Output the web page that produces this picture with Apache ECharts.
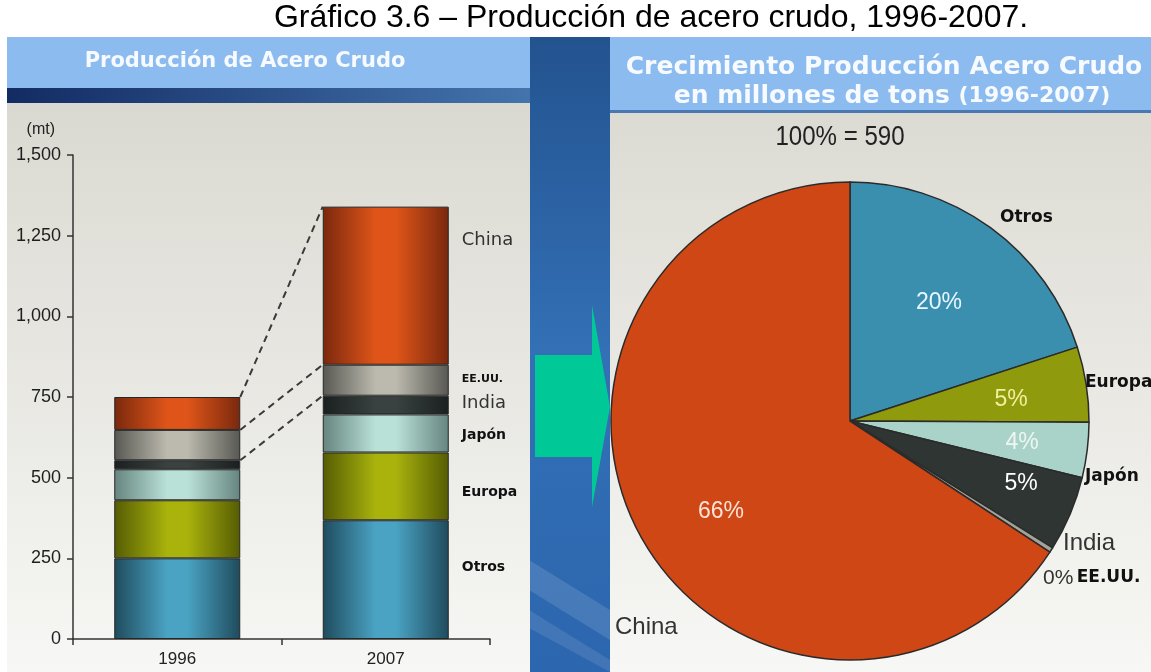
<!DOCTYPE html>
<html lang="es">
<head>
<meta charset="utf-8">
<title>Producción de acero crudo, 1996-2007</title>
<script src="https://cdn.jsdelivr.net/npm/echarts@6/dist/echarts.min.js"></script>
<style>
  html, body { margin: 0; padding: 0; background: #ffffff; overflow: hidden; }
  #main { width: 1151px; height: 672px; }
</style>
</head>
<body>
<div id="main"></div>
<script>
// Producción de acero crudo por región (millones de toneladas)
const regiones = ['Otros', 'Europa', 'Japón', 'India', 'EE.UU.', 'China'];
const anios = ['1996', '2007'];
const prod1996 = [250, 180, 96, 28, 94, 102];
const prod2007 = [368, 210, 118, 58, 96, 490];
// Crecimiento 1996-2007 por región (millones de toneladas)
const crecimiento = [118, 30, 22, 30, 2, 388];
// Eje de producción
const ejeMin = 0, ejeMax = 1500, ejePaso = 250;

// ---- estilos ----
const ARIAL = '"Liberation Sans", Arial, sans-serif';
const VERD = '"DejaVu Sans", Verdana, sans-serif';
const BAR_W = 126;

// [borde oscuro, centro claro] del cilindro de cada región
const barTones = [
  ['#1f4b5d', '#4aa3c3'],
  ['#555c03', '#a9b30c'],
  ['#65857f', '#bae1d8'],
  ['#1a201f', '#394240'],
  ['#585853', '#bcbaae'],
  ['#7a280d', '#df5519']
];
const pieColors = ['#3b8fae', '#8f9b0c', '#a9d2c9', '#2f3533', '#a3a39a', '#cf4715'];
const pctColors = ['#e6f7ff', '#f3ef9c', '#eef6f4', '#ffffff', '#ffffff', '#fbe3d6'];

// etiquetas a la derecha de la barra 2007
const barLabelStyle = [
  { fontFamily: VERD, fontWeight: 'bold', fontSize: 14, color: '#111', offset: [0, -12] },
  { fontFamily: VERD, fontWeight: 'bold', fontSize: 14, color: '#111', offset: [0, 6] },
  { fontFamily: VERD, fontWeight: 'bold', fontSize: 14, color: '#111', offset: [0, 2] },
  { fontFamily: VERD, fontWeight: 'normal', fontSize: 18, color: '#333', offset: [0, -2] },
  { fontFamily: VERD, fontWeight: 'bold', fontSize: 11, color: '#111', offset: [0, -1] },
  { fontFamily: VERD, fontWeight: 'normal', fontSize: 18, color: '#333', offset: [0, -45] }
];

// posiciones de las etiquetas del gráfico circular
const pieNamePos = {
  'Otros': [1000, 218], 'Europa': [1085, 383], 'Japón': [1085, 477],
  'India': [1063, 543], 'EE.UU.': [1043, 578], 'China': [615, 627]
};
const piePctPos = {
  'Otros': [939, 303], 'Europa': [1011, 400], 'Japón': [1022, 443],
  'India': [1021, 484], 'China': [721, 512]
};

function cylinder(t) {
  return new echarts.graphic.LinearGradient(0, 0, 1, 0, [
    { offset: 0, color: t[0] },
    { offset: 0.42, color: t[1] },
    { offset: 0.58, color: t[1] },
    { offset: 1, color: t[0] }
  ]);
}

function cumulative(arr) {
  let s = 0;
  return arr.map(v => (s += v));
}
const cum1996 = cumulative(prod1996);
const cum2007 = cumulative(prod2007);
// líneas punteadas entre los segmentos de China y EE.UU.
const conectores = [5, 4, 3].map(i => [0, cum1996[i], cum2007[i]]);
const totalCrec = crecimiento.reduce((a, b) => a + b, 0);

const barSeries = regiones.map((name, i) => ({
  type: 'bar',
  name: name,
  stack: 'total',
  barWidth: BAR_W,
  itemStyle: { color: cylinder(barTones[i]), borderColor: '#262626', borderWidth: 1 },
  label: { show: false },
  data: [
    prod1996[i],
    {
      value: prod2007[i],
      label: Object.assign({
        show: true, position: 'right', distance: 13, formatter: name
      }, barLabelStyle[i])
    }
  ]
}));

const pieData = regiones.map((name, i) => ({
  name: name,
  value: crecimiento[i],
  itemStyle: { color: pieColors[i] },
  label: { color: pctColors[i], show: name !== 'EE.UU.' }
}));

const chart = echarts.init(document.getElementById('main'), null, { renderer: 'canvas' });

const option = {
  animation: false,
  backgroundColor: '#ffffff',
  grid: { left: 73, right: 661, top: 155, bottom: 33, containLabel: false },
  xAxis: {
    type: 'category',
    data: anios,
    axisLine: { lineStyle: { color: '#333', width: 1.5 } },
    axisTick: { show: true, length: 6, lineStyle: { color: '#333', width: 1.5 } },
    axisLabel: { color: '#222', fontSize: 17, fontFamily: ARIAL, margin: 12 }
  },
  yAxis: {
    type: 'value',
    min: ejeMin, max: ejeMax, interval: ejePaso,
    name: '(mt)',
    nameLocation: 'end',
    nameGap: 17,
    nameTextStyle: { color: '#222', fontSize: 16, fontFamily: ARIAL, align: 'right', padding: [0, 18, 0, 0] },
    splitLine: { show: false },
    axisLine: { show: true, lineStyle: { color: '#333', width: 1.5 } },
    axisTick: { show: true, length: 6, lineStyle: { color: '#333', width: 1.5 } },
    axisLabel: {
      color: '#1e1e1e', fontSize: 18, fontFamily: ARIAL, margin: 12,
      formatter: v => v.toLocaleString('en-US')
    }
  },
  graphic: [
    // fondo azul de la presentación
    { type: 'rect', z: -10, shape: { x: 7, y: 37, width: 1144, height: 635 },
      style: { fill: new echarts.graphic.LinearGradient(0, 0, 0, 1, [
        { offset: 0, color: '#23538f' }, { offset: 0.5, color: '#3370b6' }, { offset: 1, color: '#2c66ae' }]) } },
    { type: 'polygon', z: -9, shape: { points: [[529, 560], [610, 610], [610, 640], [529, 590]] },
      style: { fill: 'rgba(255,255,255,0.12)' } },
    { type: 'polygon', z: -9, shape: { points: [[529, 610], [610, 660], [610, 672], [529, 628]] },
      style: { fill: 'rgba(255,255,255,0.10)' } },
    // panel izquierdo
    { type: 'rect', z: -8, shape: { x: 7, y: 37, width: 523, height: 51 }, style: { fill: '#8cbbf0' } },
    { type: 'rect', z: -8, shape: { x: 7, y: 88, width: 523, height: 15 },
      style: { fill: new echarts.graphic.LinearGradient(0, 0, 1, 0, [
        { offset: 0, color: '#132b63' }, { offset: 1, color: '#4474ad' }]) } },
    { type: 'rect', z: -8, shape: { x: 7, y: 103, width: 523, height: 569 },
      style: { fill: new echarts.graphic.LinearGradient(0, 0, 0, 1, [
        { offset: 0, color: '#dad9d1' }, { offset: 1, color: '#f7f7f5' }]) } },
    { type: 'text', z: 10, x: 245, y: 62,
      style: { text: 'Producción de Acero Crudo', fill: '#f7faff', font: 'bold 21px ' + VERD,
        align: 'center', verticalAlign: 'middle' } },
    // panel derecho
    { type: 'rect', z: -8, shape: { x: 610, y: 37, width: 541, height: 73 }, style: { fill: '#8cbbf0' } },
    { type: 'rect', z: -8, shape: { x: 610, y: 110, width: 541, height: 3 }, style: { fill: '#4a78b2' } },
    { type: 'rect', z: -8, shape: { x: 610, y: 113, width: 541, height: 559 },
      style: { fill: new echarts.graphic.LinearGradient(0, 0, 0, 1, [
        { offset: 0, color: '#dcdbd3' }, { offset: 1, color: '#f7f7f5' }]) } },
    { type: 'text', z: 10, x: 884, y: 67,
      style: { text: 'Crecimiento Producción Acero Crudo', fill: '#f7faff', font: 'bold 25px ' + VERD,
        align: 'center', verticalAlign: 'middle' } },
    { type: 'text', z: 10, x: 892, y: 96,
      style: { text: '{a|en millones de tons }{b|(1996-2007)}', align: 'center', verticalAlign: 'middle',
        rich: {
          a: { fill: '#f7faff', font: 'bold 25px ' + VERD },
          b: { fill: '#f7faff', font: 'bold 22px ' + VERD }
        } } },
    { type: 'text', z: 10, x: 840, y: 137, scaleX: 0.86,
      style: { text: '100% = ' + totalCrec, fill: '#222', font: '28px ' + ARIAL,
        align: 'center', verticalAlign: 'middle' } },
    // flecha central
    { type: 'polygon', z: 1, shape: { points: [[535, 355], [592, 355], [592, 305], [610, 407], [592, 507], [592, 457], [535, 457]] },
      style: { fill: '#00c896' } },
    // título
    { type: 'text', z: 10, x: 651, y: 18,
      style: { text: 'Gráfico 3.6 – Producción de acero crudo, 1996-2007.', fill: '#000', font: '32px ' + ARIAL,
        align: 'center', verticalAlign: 'middle' } }
  ],
  series: barSeries.concat([
    {
      type: 'custom',
      coordinateSystem: 'cartesian2d',
      encode: { x: 0, y: [1, 2] },
      silent: true,
      z: 5,
      clip: false,
      data: conectores,
      renderItem: function (params, api) {
        const a = api.coord([0, api.value(1)]);
        const b = api.coord([1, api.value(2)]);
        return {
          type: 'line',
          shape: { x1: a[0] + BAR_W / 2, y1: a[1], x2: b[0] - BAR_W / 2, y2: b[1] },
          style: { stroke: '#3a3a3a', lineWidth: 2, lineDash: [7, 5] }
        };
      }
    },
    {
      // sectores del crecimiento con porcentajes
      type: 'pie',
      center: [850, 421],
      radius: 239,
      startAngle: 90,
      clockwise: true,
      silent: true,
      avoidLabelOverlap: false,
      itemStyle: { borderColor: '#2b2b2b', borderWidth: 1.5 },
      label: {
        show: true, position: 'inside', overflow: 'none',
        fontFamily: ARIAL, fontSize: 23,
        formatter: p => Math.round(p.percent) + '%'
      },
      labelLine: { show: false },
      labelLayout: function (p) {
        const pos = piePctPos[regiones[p.dataIndex]];
        return pos ? { x: pos[0], y: pos[1], align: 'center', verticalAlign: 'middle' } : {};
      },
      data: pieData
    },
    {
      // nombres de las regiones alrededor del círculo
      type: 'pie',
      center: [850, 421],
      radius: 239,
      startAngle: 90,
      clockwise: true,
      silent: true,
      avoidLabelOverlap: false,
      itemStyle: { color: 'rgba(0,0,0,0)', borderWidth: 0 },
      label: {
        show: true, position: 'inside', overflow: 'none',
        formatter: function (p) {
          if (p.name === 'EE.UU.') return '{p|' + Math.round(p.percent) + '%} {b|' + p.name + '}';
          if (p.name === 'India' || p.name === 'China') return '{r|' + p.name + '}';
          return '{b|' + p.name + '}';
        },
        rich: {
          b: { fontFamily: VERD, fontWeight: 'bold', fontSize: 17, color: '#111' },
          r: { fontFamily: ARIAL, fontSize: 24, color: '#333' },
          p: { fontFamily: ARIAL, fontSize: 21, color: '#333' }
        }
      },
      labelLine: { show: false },
      labelLayout: function (p) {
        const pos = pieNamePos[regiones[p.dataIndex]];
        return { x: pos[0], y: pos[1], align: 'left', verticalAlign: 'middle' };
      },
      data: regiones.map((name, i) => ({ name: name, value: crecimiento[i] }))
    }
  ])
};

chart.setOption(option);
</script>
</body>
</html>
